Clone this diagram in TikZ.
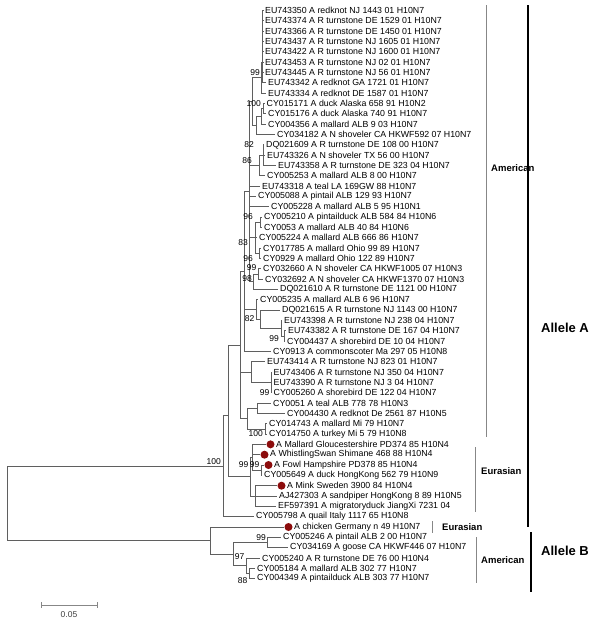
\documentclass[tikz,border=0pt]{standalone}
\usepackage{fontspec}
\setmainfont{Liberation Sans}
\definecolor{brc}{RGB}{95,95,95}
\definecolor{dotred}{RGB}{140,12,12}
\definecolor{grpline}{RGB}{135,135,135}
\tikzset{
 br/.style={draw=brc, line width=0.7pt},
 leaf/.style={anchor=west, inner sep=0pt, font=\fontsize{8.8}{10}\selectfont},
 bs/.style={anchor=east, inner sep=0pt, font=\fontsize{8.5}{10}\selectfont},
 dot/.style={circle, fill=dotred, inner sep=0pt, minimum size=8pt},
 grp/.style={anchor=west, inner sep=0pt, font=\fontsize{9.5}{11}\selectfont\bfseries},
 allele/.style={anchor=west, inner sep=0pt, font=\fontsize{13}{15}\selectfont\bfseries},
 gline/.style={draw=grpline, line width=0.8pt},
 aline/.style={draw=black, line width=1.2pt},
}
\newcommand\mkleaf[3]{\coordinate (e#1) at (#2,{10.5+(#1-1)*10.33});
 \node[leaf] (t#1) at ([xshift=2pt]e#1) {#3};}
\newcommand\mkdleaf[3]{\coordinate (e#1) at (#2,{10.5+(#1-1)*10.33});
 \node[dot] (d#1) at ([xshift=4.5pt]e#1) {};
 \node[leaf] (t#1) at ([xshift=10pt]e#1) {#3};}
\begin{document}
\begin{tikzpicture}[x=1pt,y=-1pt]
\useasboundingbox (0,0) rectangle (600,621);
\fill[white] (0,0) rectangle (600,621);
% leaves
\mkleaf{1}{263}{EU743350 A redknot NJ 1443 01 H10N7}
\mkleaf{2}{263}{EU743374 A R turnstone DE 1529 01 H10N7}
\mkleaf{3}{263}{EU743366 A R turnstone DE 1450 01 H10N7}
\mkleaf{4}{263}{EU743437 A R turnstone NJ 1605 01 H10N7}
\mkleaf{5}{263}{EU743422 A R turnstone NJ 1600 01 H10N7}
\mkleaf{6}{263}{EU743453 A R turnstone NJ 02 01 H10N7}
\mkleaf{7}{263}{EU743445 A R turnstone NJ 56 01 H10N7}
\mkleaf{8}{266}{EU743342 A redknot GA 1721 01 H10N7}
\mkleaf{9}{266}{EU743334 A redknot DE 1587 01 H10N7}
\mkleaf{10}{264.5}{CY015171 A duck Alaska 658 91 H10N2}
\mkleaf{11}{266}{CY015176 A duck Alaska 740 91 H10N7}
\mkleaf{12}{266}{CY004356 A mallard ALB 9 03 H10N7}
\mkleaf{13}{275}{CY034182 A N shoveler CA HKWF592 07 H10N7}
\mkleaf{14}{264}{DQ021609 A R turnstone DE 108 00 H10N7}
\mkleaf{15}{265}{EU743326 A N shoveler TX 56 00 H10N7}
\mkleaf{16}{276}{EU743358 A R turnstone DE 323 04 H10N7}
\mkleaf{17}{265}{CY005253 A mallard ALB 8 00 H10N7}
\mkleaf{18}{260}{EU743318 A teal LA 169GW 88 H10N7}
\mkleaf{19}{256}{CY005088 A pintail ALB 129 93 H10N7}
\mkleaf{20}{269}{CY005228 A mallard ALB 5 95 H10N1}
\mkleaf{21}{262}{CY005210 A pintailduck ALB 584 84 H10N6}
\mkleaf{22}{262}{CY0053 A mallard ALB 40 84 H10N6}
\mkleaf{23}{257}{CY005224 A mallard ALB 666 86 H10N7}
\mkleaf{24}{261}{CY017785 A mallard Ohio 99 89 H10N7}
\mkleaf{25}{261}{CY0929 A mallard Ohio 122 89 H10N7}
\mkleaf{26}{261}{CY032660 A N shoveler CA HKWF1005 07 H10N3}
\mkleaf{27}{263}{CY032692 A N shoveler CA HKWF1370 07 H10N3}
\mkleaf{28}{278}{DQ021610 A R turnstone DE 1121 00 H10N7}
\mkleaf{29}{258}{CY005235 A mallard ALB 6 96 H10N7}
\mkleaf{30}{280}{DQ021615 A R turnstone NJ 1143 00 H10N7}
\mkleaf{31}{282}{EU743398 A R turnstone NJ 238 04 H10N7}
\mkleaf{32}{286}{EU743382 A R turnstone DE 167 04 H10N7}
\mkleaf{33}{285}{CY004437 A shorebird DE 10 04 H10N7}
\mkleaf{34}{271}{CY0913 A commonscoter Ma 297 05 H10N8}
\mkleaf{35}{265}{EU743414 A R turnstone NJ 823 01 H10N7}
\mkleaf{36}{271.5}{EU743406 A R turnstone NJ 350 04 H10N7}
\mkleaf{37}{271.5}{EU743390 A R turnstone NJ 3 04 H10N7}
\mkleaf{38}{271.5}{CY005260 A shorebird DE 122 04 H10N7}
\mkleaf{39}{271}{CY0051 A teal ALB 778 78 H10N3}
\mkleaf{40}{285}{CY004430 A redknot De 2561 87 H10N5}
\mkleaf{41}{267}{CY014743 A mallard Mi 79 H10N7}
\mkleaf{42}{267}{CY014750 A turkey Mi 5 79 H10N8}
\mkdleaf{43}{266}{A Mallard Gloucestershire PD374 85 H10N4}
\mkdleaf{44}{260}{A WhistlingSwan Shimane 468 88 H10N4}
\mkdleaf{45}{264}{A Fowl Hampshire PD378 85 H10N4}
\mkleaf{46}{262}{CY005649 A duck HongKong 562 79 H10N9}
\mkdleaf{47}{277}{A Mink Sweden 3900 84 H10N4}
\mkleaf{48}{277}{AJ427303 A sandpiper HongKong 8 89 H10N5}
\mkleaf{49}{276}{EF597391 A migratoryduck JiangXi 7231 04}
\mkleaf{50}{254}{CY005798 A quail Italy 1117 65 H10N8}
\mkdleaf{51}{284}{A chicken Germany n 49 H10N7}
\mkleaf{52}{281}{CY005246 A pintail ALB 2 00 H10N7}
\mkleaf{53}{288}{CY034169 A goose CA HKWF446 07 H10N7}
\mkleaf{54}{260}{CY005240 A R turnstone DE 76 00 H10N4}
\mkleaf{55}{255}{CY005184 A mallard ALB 302 77 H10N7}
\mkleaf{56}{255}{CY004349 A pintailduck ALB 303 77 H10N7}
% internal nodes
\coordinate (X1) at (262.5,41.5);
\coordinate (X2) at (262,62.2);
\coordinate (X3) at (261.5,77.7);
\coordinate (G2b) at (263,108.6);
\coordinate (G2a) at (261,116.4);
\coordinate (G2) at (256,125.4);
\coordinate (G12) at (252,101.5);
\coordinate (G3a) at (263,155.1);
\coordinate (G3) at (259,165.4);
\coordinate (G4a) at (260,222.3);
\coordinate (G4b) at (259.5,253.3);
\coordinate (G4) at (255,237.8);
\coordinate (G5a) at (258,273.9);
\coordinate (G5) at (253,281.7);
\coordinate (Sp) at (249,191.6);
\coordinate (G6c) at (284,335.9);
\coordinate (G6b) at (281,328.2);
\coordinate (G6a) at (260,319.1);
\coordinate (G6) at (256,309.4);
\coordinate (Sq) at (244,271.5);
\coordinate (G7a) at (271,382.4);
\coordinate (G7) at (251,372.1);
\coordinate (G8a) at (257,408.2);
\coordinate (G8b) at (265,428.9);
\coordinate (G8) at (247,418.5);
\coordinate (Am) at (240,345);
\coordinate (Eu1a) at (261,470.2);
\coordinate (Eu1) at (252,457.3);
\coordinate (Eu2) at (255,496.0);
\coordinate (Eu) at (250,476.7);
\coordinate (AE) at (228,414.9);
\coordinate (A) at (223,466.5);
\coordinate (Bam1) at (267,542.5);
\coordinate (Bam3) at (249,573.5);
\coordinate (Bam2) at (246,565.7);
\coordinate (Bam) at (233,554.1);
\coordinate (B) at (210,540.6);
\coordinate (R) at (7,503.5);
% edges
\foreach \i in {1,...,7} \draw[br] (X1) |- (e\i);
\draw[br] (X2) |- (X1); \draw[br] (X2) |- (e8);
\draw[br] (X3) |- (X2); \draw[br] (X3) |- (e9);
\draw[br] (G2b) |- (e10); \draw[br] (G2b) |- (e11);
\draw[br] (G2a) |- (G2b); \draw[br] (G2a) |- (e12);
\draw[br] (G2) |- (G2a); \draw[br] (G2) |- (e13);
\draw[br] (G12) |- (X3); \draw[br] (G12) |- (G2);
\foreach \i in {14,15,16} \draw[br] (G3a) |- (e\i);
\draw[br] (G3) |- (G3a); \draw[br] (G3) |- (e17);
\draw[br] (G4a) |- (e21); \draw[br] (G4a) |- (e22);
\draw[br] (G4b) |- (e24); \draw[br] (G4b) |- (e25);
\draw[br] (G4) |- (G4a); \draw[br] (G4) |- (e23); \draw[br] (G4) |- (G4b);
\draw[br] (G5a) |- (e26); \draw[br] (G5a) |- (e27);
\draw[br] (G5) |- (G5a); \draw[br] (G5) |- (e28);
\foreach \c in {G12,G3,e18,e19,e20,G4,G5} \draw[br] (Sp) |- (\c);
\draw[br] (G6c) |- (e32); \draw[br] (G6c) |- (e33);
\draw[br] (G6b) |- (e31); \draw[br] (G6b) |- (G6c);
\draw[br] (G6a) |- (e30); \draw[br] (G6a) |- (G6b);
\draw[br] (G6) |- (e29); \draw[br] (G6) |- (G6a);
\foreach \c in {Sp,G6,e34} \draw[br] (Sq) |- (\c);
\foreach \i in {36,37,38} \draw[br] (G7a) |- (e\i);
\draw[br] (G7) |- (e35); \draw[br] (G7) |- (G7a);
\draw[br] (G8a) |- (e39); \draw[br] (G8a) |- (e40);
\draw[br] (G8b) |- (e41); \draw[br] (G8b) |- (e42);
\draw[br] (G8) |- (G8a); \draw[br] (G8) |- (G8b);
\foreach \c in {Sq,G7,G8} \draw[br] (Am) |- (\c);
\draw[br] (Eu1a) |- (e45); \draw[br] (Eu1a) |- (e46);
\foreach \c in {e43,e44,Eu1a} \draw[br] (Eu1) |- (\c);
\foreach \i in {47,48,49} \draw[br] (Eu2) |- (e\i);
\draw[br] (Eu) |- (Eu1); \draw[br] (Eu) |- (Eu2);
\draw[br] (AE) |- (Am); \draw[br] (AE) |- (Eu);
\draw[br] (A) |- (AE); \draw[br] (A) |- (e50);
\draw[br] (Bam1) |- (e52); \draw[br] (Bam1) |- (e53);
\draw[br] (Bam3) |- (e55); \draw[br] (Bam3) |- (e56);
\draw[br] (Bam2) |- (e54); \draw[br] (Bam2) |- (Bam3);
\draw[br] (Bam) |- (Bam1); \draw[br] (Bam) |- (Bam2);
\draw[br] (B) |- (e51); \draw[br] (B) |- (Bam);
\draw[br] (R) |- (A); \draw[br] (R) |- (B);
% bootstrap values
\node[bs] (b1) at (260,72.5) {99};
\node[bs] (b2) at (261,103.5) {100};
\node[bs] (b3) at (254,144.8) {82};
\node[bs] (b4) at (252,160.5) {86};
\node[bs] (b5) at (253,217) {96};
\node[bs] (b6) at (248,243) {83};
\node[bs] (b7) at (253,258.4) {96};
\node[bs] (b8) at (256.5,267.5) {99};
\node[bs] (b9) at (252,279) {98};
\node[bs] (b10) at (254.5,318.5) {82};
\node[bs] (b11) at (279,338.5) {99};
\node[bs] (b12) at (269.5,392.7) {99};
\node[bs] (b13) at (263,434) {100};
\node[bs] (b14) at (248.5,465) {99};
\node[bs] (b15) at (259.5,465) {99};
\node[bs] (b16) at (221,462) {100};
\node[bs] (b17) at (266,537.3) {99};
\node[bs] (b18) at (244.5,557) {97};
\node[bs] (b19) at (247.5,580.5) {88};
% group brackets
\coordinate (amAt) at (486,5); \coordinate (amAb) at (486,437);
\draw[gline] (amAt) -- (amAb);
\node[grp] (lamA) at (491,168) {American};
\coordinate (euAt) at (475,447); \coordinate (euAb) at (475,512);
\draw[gline] (euAt) -- (euAb);
\node[grp] (leuA) at (481,471) {Eurasian};
\coordinate (euBt) at (432,521); \coordinate (euBb) at (432,533);
\draw[gline] (euBt) -- (euBb);
\node[grp] (leuB) at (442,527) {Eurasian};
\coordinate (amBt) at (476,537); \coordinate (amBb) at (476,583);
\draw[gline] (amBt) -- (amBb);
\node[grp] (lamB) at (481,560) {American};
\coordinate (alAt) at (528,5); \coordinate (alAb) at (528,527);
\draw[aline] (alAt) -- (alAb);
\node[allele] (lalA) at (541,328) {Allele A};
\coordinate (alBt) at (531,532); \coordinate (alBb) at (531,592);
\draw[aline] (alBt) -- (alBb);
\node[allele] (lalB) at (541,551) {Allele B};
% scale bar
\coordinate (sb1) at (41,605); \coordinate (sb2) at (97,605);
\draw[br,draw=grpline] (sb1) -- (sb2);
\draw[br,draw=grpline] ([yshift=3pt]sb1) -- ([yshift=-3pt]sb1);
\draw[br,draw=grpline] ([yshift=3pt]sb2) -- ([yshift=-3pt]sb2);
\node[inner sep=0pt, font=\fontsize{8.5}{10}\selectfont, text=black!75] (sbl) at (69,614.5) {0.05};
\end{tikzpicture}
\end{document}
